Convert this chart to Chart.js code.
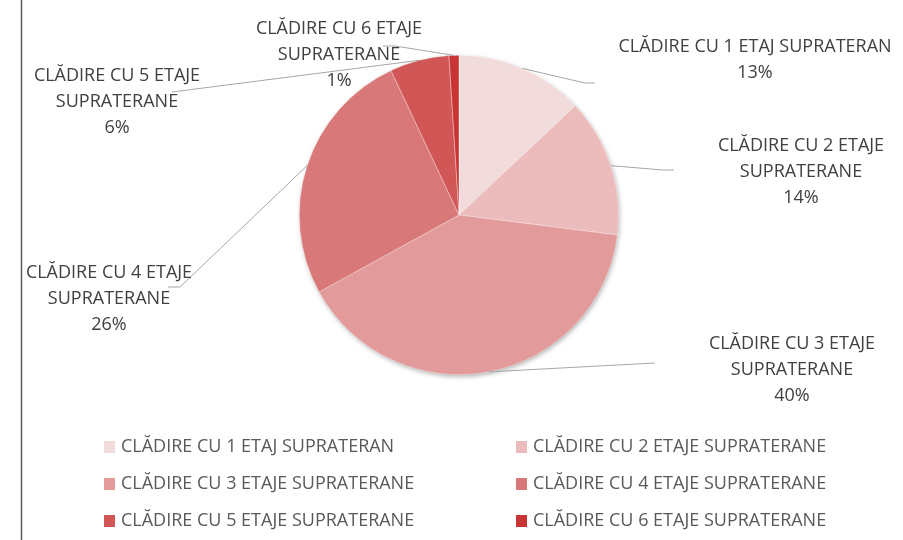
<!DOCTYPE html>
<html>
<head>
<meta charset="utf-8">
<script src="https://cdn.jsdelivr.net/npm/chart.js@4/dist/chart.umd.min.js"></script>
<style>
  html, body { margin: 0; padding: 0; background: #fff; }
  #wrap { width: 903px; height: 540px; position: relative; }
</style>
</head>
<body>
<div id="wrap"><canvas id="chart" width="903" height="540"></canvas></div>
<script>
// Данные диаграммы
const categories = [
  'CLĂDIRE CU 1 ETAJ SUPRATERAN',
  'CLĂDIRE CU 2 ETAJE SUPRATERANE',
  'CLĂDIRE CU 3 ETAJE SUPRATERANE',
  'CLĂDIRE CU 4 ETAJE SUPRATERANE',
  'CLĂDIRE CU 5 ETAJE SUPRATERANE',
  'CLĂDIRE CU 6 ETAJE SUPRATERANE',
];
const shares = [13, 14, 40, 26, 6, 1];
const sliceColors = ['#F2DCDB', '#ECBCBC', '#E29A9A', '#D97878', '#D15656', '#C93535'];

const FONT = '"Open Sans", sans-serif';
const LABEL_COLOR = '#404040';
const LEGEND_COLOR = '#595959';

// Расположение подписей (центр текста, ширина переноса, точки выноски)
const labelLayout = [
  { x: 755, y: 47, wrap: 320, leader: [[585, 83], [595, 83]] },
  { x: 801, y: 146, wrap: 220, leader: [[663, 170], [674, 170]] },
  { x: 792, y: 344, wrap: 220, leader: [[655, 363]] },
  { x: 109, y: 273, wrap: 220, leader: [[180, 287], [168, 287]] },
  { x: 117, y: 76, wrap: 220, leader: [[172, 92]] },
  { x: 339, y: 29, wrap: 220, leader: [[395, 46], [383, 46]] },
];
const legendCols = [104, 516];
const legendRows = [447, 484, 521];

function wrapText(ctx, text, maxWidth) {
  const words = text.split(' ');
  const lines = [];
  let line = '';
  words.forEach((w) => {
    const test = line ? line + ' ' + w : w;
    if (line && ctx.measureText(test).width > maxWidth) {
      lines.push(line);
      line = w;
    } else {
      line = test;
    }
  });
  if (line) lines.push(line);
  return lines;
}

// Тень под кругом и рамка слева
const backdropPlugin = {
  id: 'backdrop',
  beforeDatasetsDraw(chart) {
    const ctx = chart.ctx;
    const arc = chart.getDatasetMeta(0).data[0];
    if (!arc) return;
    const { x, y, outerRadius } = arc.getProps(['x', 'y', 'outerRadius'], true);
    ctx.save();
    ctx.strokeStyle = '#595959';
    ctx.lineWidth = 1.5;
    ctx.beginPath();
    ctx.moveTo(21.5, 0);
    ctx.lineTo(21.5, chart.height);
    ctx.stroke();
    ctx.shadowColor = 'rgba(0,0,0,0.35)';
    ctx.shadowBlur = 5;
    ctx.shadowOffsetX = 1;
    ctx.shadowOffsetY = 2;
    ctx.fillStyle = '#e0a0a0';
    ctx.beginPath();
    ctx.arc(x, y, outerRadius - 0.5, 0, Math.PI * 2);
    ctx.fill();
    ctx.restore();
  },
};

// Подписи с выносками
const outerLabelsPlugin = {
  id: 'outerLabels',
  afterDatasetsDraw(chart) {
    const ctx = chart.ctx;
    const total = shares.reduce((a, b) => a + b, 0);
    ctx.save();
    chart.getDatasetMeta(0).data.forEach((arc, i) => {
      const p = arc.getProps(['x', 'y', 'startAngle', 'endAngle', 'outerRadius'], true);
      const mid = (p.startAngle + p.endAngle) / 2;
      const sx = p.x + Math.cos(mid) * p.outerRadius;
      const sy = p.y + Math.sin(mid) * p.outerRadius;
      const lay = labelLayout[i];

      ctx.strokeStyle = '#a6a6a6';
      ctx.lineWidth = 1;
      ctx.beginPath();
      ctx.moveTo(sx, sy);
      lay.leader.forEach(([lx, ly]) => ctx.lineTo(lx, ly));
      ctx.stroke();

      ctx.font = '18px ' + FONT;
      ctx.fillStyle = LABEL_COLOR;
      ctx.textAlign = 'center';
      ctx.textBaseline = 'middle';
      const lines = wrapText(ctx, categories[i], lay.wrap);
      lines.push(Math.round((shares[i] / total) * 100) + '%');
      lines.forEach((t, k) => ctx.fillText(t, lay.x, lay.y + k * 26));
    });

    // Легенда в две колонки
    ctx.font = '18px ' + FONT;
    ctx.textAlign = 'left';
    ctx.textBaseline = 'middle';
    categories.forEach((name, i) => {
      const x = legendCols[i % 2];
      const y = legendRows[Math.floor(i / 2)];
      ctx.fillStyle = sliceColors[i];
      ctx.fillRect(x, y - 6, 11, 12);
      ctx.fillStyle = LEGEND_COLOR;
      ctx.fillText(name, x + 17, y);
    });
    ctx.restore();
  },
};

const ctx = document.getElementById('chart').getContext('2d');
new Chart(ctx, {
  type: 'pie',
  data: {
    labels: categories,
    datasets: [{
      data: shares,
      backgroundColor: sliceColors,
      borderColor: 'rgba(255,255,255,0.6)',
      borderWidth: 0.6,
    }],
  },
  options: {
    responsive: false,
    animation: false,
    layout: { padding: { top: 55, bottom: 165, left: 299, right: 284 } },
    plugins: {
      legend: { display: false },
      tooltip: { enabled: false },
    },
  },
  plugins: [backdropPlugin, outerLabelsPlugin],
});
</script>
</body>
</html>
